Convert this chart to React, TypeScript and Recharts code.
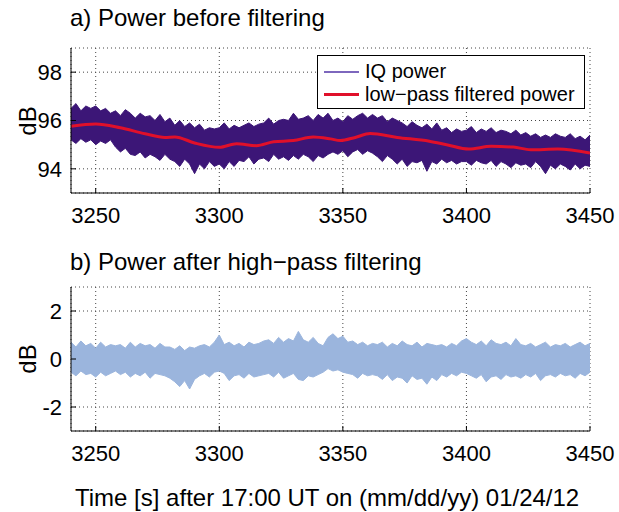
import React from "react";
import {
  ComposedChart,
  Area,
  Line,
  XAxis,
  YAxis,
  CartesianGrid,
} from "recharts";

// sample times of the envelope readings (every 2 s)
const sampleTimes = Array.from({ length: 106 }, (_, i) => 3240 + 2 * i);

// a) IQ power, upper / lower envelope of the raw trace [dB]
const iqHigh = [
  96.5, 96.7, 96.4, 96.6, 96.5,
  96.6, 96.4, 96.5, 96.3,
  96.4, 96.2, 96.45, 96.3,
  96.1, 96.3, 96.15, 96.2,
  96.0, 96.25, 95.95, 96.1,
  95.8, 96.0, 95.75, 95.9,
  95.7, 95.85, 95.6, 95.7, 95.65,
  95.7, 95.9, 95.65, 95.8, 95.7,
  95.8, 95.9, 95.75, 95.85,
  95.9, 96.1, 95.85, 96.0, 96.05,
  96.0, 96.3, 96.05, 96.1,
  96.2, 96.0, 96.25, 96.1, 96.3, 96.0,
  96.1, 95.95, 96.2, 96.05,
  96.2, 96.3, 96.1, 96.25,
  96.1, 96.2, 95.95, 96.1, 96.0,
  95.9, 95.75, 95.95, 95.8,
  95.7, 95.85, 95.65, 95.9,
  95.6, 95.7, 95.5, 95.65, 95.55,
  95.6, 95.75, 95.5, 95.65,
  95.55, 95.7, 95.5, 95.6,
  95.55, 95.45, 95.6, 95.4,
  95.5, 95.35, 95.45, 95.3,
  95.4, 95.3, 95.45, 95.35,
  95.3, 95.45, 95.25, 95.35, 95.2, 95.4,
];
const iqLow = [
  95.2, 95.05, 95.25, 95.1, 95.2,
  95.0, 95.15, 95.05, 95.2,
  94.9, 94.7, 94.85, 94.6,
  94.55, 94.7, 94.45, 94.6,
  94.5, 94.35, 94.6, 94.4,
  94.3, 94.1, 94.4, 94.2,
  93.8, 94.2, 94.0, 94.3, 94.1,
  94.2, 94.0, 94.3, 94.1, 94.35,
  94.3, 94.5, 94.2, 94.4,
  94.45, 94.3, 94.6, 94.4, 94.5,
  94.35, 94.55, 94.4, 94.6,
  94.5, 94.3, 94.55, 94.45, 94.6, 94.7,
  94.6, 94.75, 94.5, 94.7,
  94.8, 94.6, 94.75, 94.65,
  94.5, 94.3, 94.55, 94.4, 94.2,
  94.4, 94.1, 94.3, 94.25,
  94.35, 93.9, 94.3, 94.2,
  94.4, 94.25, 94.35, 94.2, 94.3,
  94.3, 94.15, 94.35, 94.25,
  94.2, 94.35, 94.1, 94.3,
  94.2, 94.05, 94.25, 94.15,
  94.2, 94.05, 94.3, 94.1,
  93.8, 94.15, 94.0, 94.2,
  94.1, 93.95, 94.2, 94.0, 94.15, 94.1,
];

// a) low-pass filtered power
const lpTimes = [
  3240, 3250, 3260, 3270, 3278, 3282, 3290, 3300, 3307, 3315, 3322, 3330, 3338,
  3345, 3349, 3355, 3361, 3372, 3385, 3392, 3401, 3410, 3419, 3426, 3437, 3450,
];
const lpPower = [
  95.76, 95.86, 95.7, 95.45, 95.3, 95.32, 95.07, 94.89, 95.04, 94.96, 95.12,
  95.17, 95.32, 95.24, 95.17, 95.3, 95.46, 95.3, 95.14, 95.0, 94.82, 94.93,
  94.9, 94.79, 94.82, 94.65,
];

// b) high-pass filtered power, upper / lower envelope [dB]
const hpHigh = [
  0.7, 0.5, 0.75, 0.55, 0.65, 0.45, 0.7, 0.5, 0.6, 0.55,
  0.6, 0.45, 0.7, 0.5, 0.65, 0.55, 0.6, 0.45, 0.65, 0.5,
  0.5, 0.4, 0.55, 0.35, 0.5, 0.45,
  0.55, 0.6, 0.5, 0.7, 1.0,
  0.6, 0.7, 0.55, 0.65, 0.5, 0.7, 0.6, 0.65, 0.75,
  0.8, 0.65, 0.9, 0.7, 0.85, 0.75, 1.15, 0.8, 0.7, 0.9, 0.65,
  0.55, 0.9, 1.05, 0.85, 0.95, 0.7,
  0.75, 0.6, 0.7, 0.55, 0.65,
  0.6, 0.7, 0.5, 0.65, 0.55, 0.75, 0.6, 0.55, 0.7, 0.5, 0.65, 0.6, 0.55,
  0.6, 0.5, 0.65, 0.55, 0.75, 0.85,
  0.7, 0.6, 0.75, 0.55, 0.8, 0.65, 0.6, 0.7, 0.55,
  0.85, 0.6, 0.55, 0.65, 0.5, 0.6, 0.7, 0.5, 0.6, 0.55, 0.65, 0.5, 0.6, 0.7, 0.55, 0.65,
];
const hpLow = [
  -0.55, -0.7, -0.5, -0.65, -0.6, -0.75, -0.55, -0.7, -0.6, -0.5,
  -0.65, -0.55, -0.75, -0.6, -0.7, -0.55, -0.8, -0.6, -0.65, -0.7,
  -0.8, -0.95, -1.15, -0.9, -1.25, -0.85,
  -0.7, -0.6, -0.75, -0.55, -0.5,
  -0.6, -0.9, -0.7, -0.65, -0.8, -0.6, -0.75, -0.7, -0.65,
  -0.6, -0.75, -0.55, -0.8, -0.7, -0.6, -0.85, -0.9, -0.7, -0.75, -0.65,
  -0.55, -0.4, -0.5, -0.45, -0.55, -0.6,
  -0.65, -0.8, -0.6, -0.7, -0.65,
  -0.7, -0.85, -0.65, -0.9, -0.75, -0.8, -1.0, -0.7, -0.85, -0.8, -1.05, -0.75, -0.9,
  -0.65, -0.75, -0.6, -0.7, -0.55, -0.6,
  -0.7, -0.8, -0.65, -0.95, -0.75, -0.7, -0.85, -0.65, -0.75,
  -0.7, -0.8, -0.65, -0.75, -0.6, -0.9, -0.7, -0.65, -0.75, -0.6, -0.7, -0.65, -0.8, -0.6, -0.7, -0.55,
];

const timeTicks = [3250, 3300, 3350, 3400, 3450];
const powerTicks = [94, 96, 98];
const hpTicks = [-2, 0, 2];

const FONT = "'Liberation Sans', Arial, Helvetica, sans-serif";
const IQ_COLOR = "#3c1677";
const IQ_LEGEND = "#7d67bd";
const LP_COLOR = "#e0102a";
const HP_COLOR = "#9bb5dd";

const iqData = sampleTimes.map((t, i) => ({ t, band: [iqLow[i], iqHigh[i]] }));
const lpData = lpTimes.map((t, i) => ({ t, lp: lpPower[i] }));
const hpData = sampleTimes.map((t, i) => ({ t, band: [hpLow[i], hpHigh[i]] }));

const tickStyle = { fill: "#000", fontSize: 22, fontFamily: FONT };

// MATLAB-style boxed axes with inward ticks on every side
const frameAxes = (yDomain: number[], yTicks: number[]) => [
  <XAxis
    key="b"
    xAxisId="b"
    type="number"
    dataKey="t"
    domain={[3240, 3450]}
    ticks={timeTicks}
    interval={0}
    allowDataOverflow
    height={40}
    tickSize={-5}
    tickMargin={19}
    tick={tickStyle}
    stroke="#000"
    tickLine={{ stroke: "#000" }}
    axisLine={{ stroke: "#000" }}
  />,
  <XAxis
    key="t"
    xAxisId="t"
    orientation="top"
    type="number"
    dataKey="t"
    domain={[3240, 3450]}
    ticks={timeTicks}
    interval={0}
    allowDataOverflow
    height={0}
    tickSize={-5}
    tick={false}
    stroke="#000"
    tickLine={{ stroke: "#000" }}
    axisLine={{ stroke: "#000" }}
  />,
  <YAxis
    key="l"
    yAxisId="l"
    type="number"
    domain={yDomain}
    ticks={yTicks}
    interval={0}
    allowDataOverflow
    width={71}
    tickSize={-5}
    tickMargin={14}
    tick={tickStyle}
    stroke="#000"
    tickLine={{ stroke: "#000" }}
    axisLine={{ stroke: "#000" }}
  />,
  <YAxis
    key="r"
    yAxisId="r"
    orientation="right"
    type="number"
    domain={yDomain}
    ticks={yTicks}
    interval={0}
    allowDataOverflow
    width={0}
    tickSize={-5}
    tick={false}
    stroke="#000"
    tickLine={{ stroke: "#000" }}
    axisLine={{ stroke: "#000" }}
  />,
];

const PowerLegend = () => (
  <div
    style={{
      position: "absolute",
      left: 317,
      top: 55,
      border: "1.5px solid #000",
      background: "#fff",
      width: 268,
      height: 54,
      boxSizing: "border-box",
      fontFamily: FONT,
      fontSize: 20,
      padding: "4px 0 0 6px",
    }}
  >
    {[
      { label: "IQ power", color: IQ_LEGEND, w: 2 },
      { label: "low\u2212pass filtered power", color: LP_COLOR, w: 3 },
    ].map((item) => (
      <div key={item.label} style={{ display: "flex", alignItems: "center", height: 23 }}>
        <span
          style={{
            display: "inline-block",
            width: 35,
            height: item.w,
            background: item.color,
            marginRight: 6,
          }}
        />
        <span>{item.label}</span>
      </div>
    ))}
  </div>
);

const textStyle: React.CSSProperties = {
  position: "absolute",
  fontFamily: FONT,
  fontSize: 24,
  color: "#000",
  whiteSpace: "nowrap",
  lineHeight: 1,
};

export default function App() {
  return (
    <div
      style={{
        position: "absolute",
        left: 0,
        top: 0,
        width: 619,
        height: 512,
        background: "#fff",
        overflow: "hidden",
      }}
    >
      <div style={{ ...textStyle, left: 70, top: 6 }}>a) Power before filtering</div>
      <div style={{ ...textStyle, left: 70, top: 250 }}>b) Power after high&#8722;pass filtering</div>
      <div
        style={{
          ...textStyle,
          left: 28,
          top: 121,
          transform: "translate(-50%, -50%) rotate(-90deg)",
        }}
      >
        dB
      </div>
      <div
        style={{
          ...textStyle,
          left: 28,
          top: 359,
          transform: "translate(-50%, -50%) rotate(-90deg)",
        }}
      >
        dB
      </div>
      <div style={{ ...textStyle, left: 75, top: 486 }}>
        Time [s] after 17:00 UT on (mm/dd/yy) 01/24/12
      </div>

      <div style={{ position: "absolute", left: 0, top: 0 }}>
        <ComposedChart
          width={619}
          height={233}
          margin={{ top: 48, right: 29, bottom: 0, left: 0 }}
        >
          <CartesianGrid
            xAxisId="b"
            yAxisId="l"
            stroke="#444"
            strokeDasharray="1 3"
            fill="none"
          />
          {frameAxes([93, 99], powerTicks)}
          <Area
            xAxisId="b"
            yAxisId="l"
            data={iqData}
            dataKey="band"
            type="linear"
            stroke={IQ_COLOR}
            strokeWidth={1}
            fill={IQ_COLOR}
            fillOpacity={1}
            isAnimationActive={false}
          />
          <Line
            xAxisId="b"
            yAxisId="l"
            data={lpData}
            dataKey="lp"
            type="monotone"
            stroke={LP_COLOR}
            strokeWidth={3}
            dot={false}
            isAnimationActive={false}
          />
        </ComposedChart>
      </div>
      <PowerLegend />

      <div style={{ position: "absolute", left: 0, top: 239 }}>
        <ComposedChart
          width={619}
          height={232}
          margin={{ top: 48, right: 29, bottom: 0, left: 0 }}
        >
          <CartesianGrid
            xAxisId="b"
            yAxisId="l"
            stroke="#444"
            strokeDasharray="1 3"
            fill="none"
          />
          {frameAxes([-3, 3], hpTicks)}
          <Area
            xAxisId="b"
            yAxisId="l"
            data={hpData}
            dataKey="band"
            type="linear"
            stroke={HP_COLOR}
            strokeWidth={1}
            fill={HP_COLOR}
            fillOpacity={1}
            isAnimationActive={false}
          />
        </ComposedChart>
      </div>
    </div>
  );
}
